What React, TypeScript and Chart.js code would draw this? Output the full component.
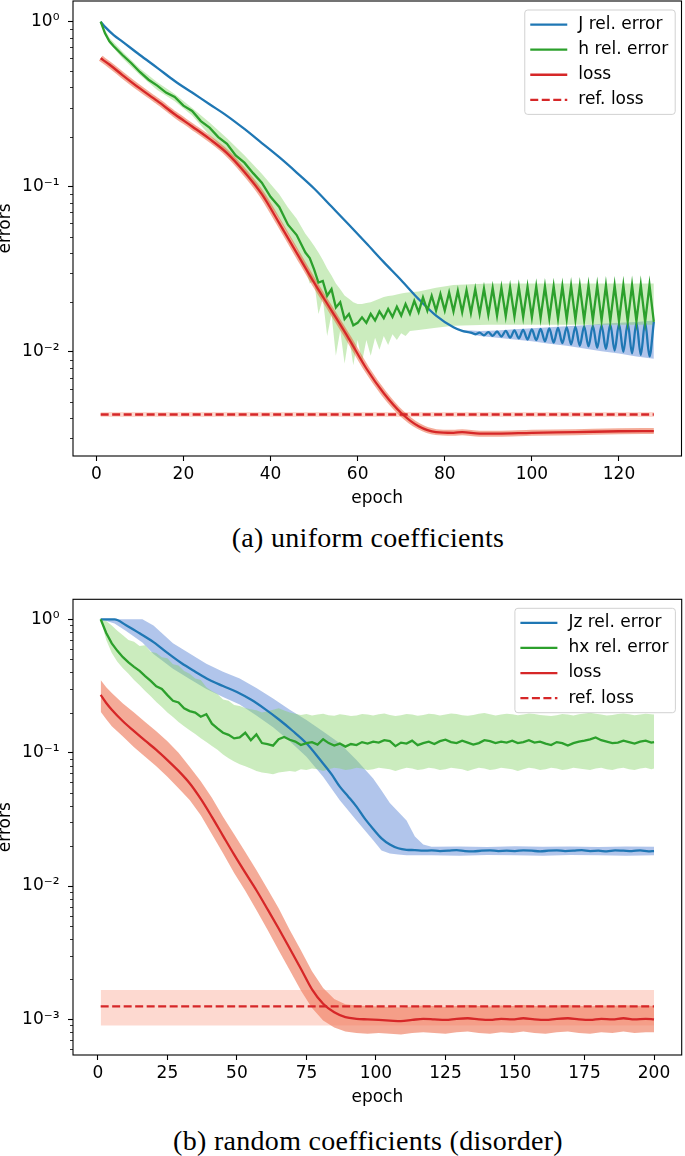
import React, { useEffect, useRef } from 'react';
import { Chart, registerables } from 'chart.js';

Chart.register(...registerables);
Chart.defaults.font.family = "'DejaVu Sans', sans-serif";
Chart.defaults.font.size = 17;
Chart.defaults.color = '#000';

// ================= (a) uniform coefficients =================
const aXTicks = [0, 20, 40, 60, 80, 100, 120];
const aYTicks = [0.01, 0.1, 1];
const aLegend = ['J rel. error', 'h rel. error', 'loss', 'ref. loss'];

const aJEpochs = [1, 2, 4, 6, 10, 14, 18, 22, 26, 30, 34, 38, 42, 46, 50, 54, 58, 62, 66, 70, 74, 78, 82, 84,
  86, 87, 88, 89, 90, 91, 92, 93, 94, 95, 96, 97, 98, 99, 100, 101, 102, 103, 104, 105, 106, 107, 108, 109,
  110, 111, 112, 113, 114, 115, 116, 117, 118, 119, 120, 121, 122, 123, 124, 125, 126, 127, 128];
const aJErr = [1.0, 0.93, 0.83, 0.757, 0.628, 0.525, 0.437, 0.372, 0.316, 0.269, 0.224, 0.184, 0.151, 0.122,
  0.0977, 0.0759, 0.0589, 0.0455, 0.035, 0.0272, 0.0209, 0.0166, 0.0141, 0.0134,
  0.0131, 0.0128, 0.0131, 0.0126, 0.0132, 0.0125, 0.0133, 0.0124, 0.0134, 0.0122, 0.0135, 0.0121, 0.0136, 0.0119,
  0.0137, 0.0118, 0.0138, 0.0116, 0.0139, 0.0114, 0.0140, 0.0113, 0.0141, 0.0111, 0.0142, 0.0109, 0.0143, 0.0108,
  0.0144, 0.0106, 0.0145, 0.0104, 0.0147, 0.0102, 0.0148, 0.0100, 0.0149, 0.0098, 0.0150, 0.0096, 0.0151, 0.0094, 0.0152];
const aJBandEpochs = [84, 88, 92, 96, 100, 104, 108, 112, 116, 120, 124, 128];
const aJBandHi = [0.0136, 0.0134, 0.0135, 0.0137, 0.0139, 0.0141, 0.0143, 0.0145, 0.0148, 0.0150, 0.0152, 0.0155];
const aJBandLo = [0.0132, 0.0125, 0.0122, 0.0119, 0.0116, 0.0112, 0.0109, 0.0105, 0.0101, 0.0098, 0.0094, 0.0091];

const aHEpochs = [1, 2, 3, 4, 6, 8, 10, 12, 14, 16, 18, 20, 22, 24, 26, 28, 30, 32, 34, 36, 38, 40, 42, 44, 46, 48, 49,
  50, 51, 52, 53, 54, 55, 56, 57, 58, 59, 60, 61, 62, 63, 64, 65, 66, 67, 68, 69, 70, 71, 72, 73, 74, 75, 76, 77, 78, 79,
  80, 81, 82, 83, 84, 85, 86, 87, 88, 89, 90, 91, 92, 93, 94, 95, 96, 97, 98, 99, 100, 101, 102, 103, 104, 105, 106,
  107, 108, 109, 110, 111, 112, 113, 114, 115, 116, 117, 118, 119, 120, 121, 122, 123, 124, 125, 126, 127, 128];
const aHErr = [1.0, 0.85, 0.76, 0.71, 0.628, 0.562, 0.496, 0.445, 0.41, 0.372, 0.35, 0.31, 0.288, 0.25, 0.228, 0.2,
  0.182, 0.155, 0.14, 0.121, 0.106, 0.087, 0.0755, 0.059, 0.051, 0.040, 0.037,
  0.0316, 0.0263, 0.0269, 0.0219, 0.024, 0.0186, 0.02, 0.0158, 0.017, 0.0145,
  0.015, 0.0162, 0.015, 0.017, 0.0155, 0.0176, 0.016, 0.0182, 0.0163, 0.0188,
  0.0166, 0.0195, 0.017, 0.0204, 0.0174, 0.0214, 0.0178, 0.0219, 0.0178, 0.0224,
  0.0178, 0.0229, 0.0176, 0.0234, 0.0174, 0.0236, 0.0172, 0.024, 0.017, 0.0242,
  0.0168, 0.0244, 0.0166, 0.0245, 0.0165, 0.0246, 0.0164, 0.0247, 0.0163, 0.0248,
  0.0162, 0.0249, 0.0161, 0.0249, 0.016, 0.025, 0.0159, 0.025, 0.0158, 0.0251,
  0.0157, 0.0251, 0.0156, 0.0252, 0.0156, 0.0252, 0.0155, 0.0253, 0.0154, 0.0253,
  0.0154, 0.0253, 0.0153, 0.0254, 0.0153, 0.0254, 0.0152, 0.0254, 0.0152];
const aHBandEpochs = [1, 3, 6, 10, 14, 18, 22, 26, 30, 34, 38, 42, 44, 46, 48, 49, 50, 51, 52, 53, 54, 55, 56, 57, 58,
  59, 60, 61, 62, 63, 64, 65, 66, 67, 68, 69, 70, 71, 72, 74, 78, 82, 90, 100, 110, 120, 128];
const aHBandHi = [1.0, 0.80, 0.66, 0.52, 0.43, 0.365, 0.30, 0.245, 0.197, 0.155, 0.12, 0.09, 0.075, 0.064, 0.052,
  0.048, 0.044, 0.040, 0.036, 0.032, 0.029, 0.026, 0.024, 0.022, 0.021, 0.020, 0.0195, 0.0195, 0.0198, 0.02, 0.0205,
  0.021, 0.0215, 0.0218, 0.022, 0.0223, 0.0226, 0.0228, 0.023, 0.0232, 0.0245, 0.0254, 0.026, 0.026, 0.026, 0.026, 0.026];
const aHBandLo = [1.0, 0.74, 0.60, 0.475, 0.385, 0.33, 0.27, 0.205, 0.163, 0.122, 0.092, 0.064, 0.052, 0.042, 0.032,
  0.026, 0.027, 0.017, 0.021, 0.0125, 0.017, 0.0095, 0.0135, 0.0085, 0.0125, 0.0083, 0.0118, 0.0087, 0.0118, 0.0095,
  0.0122, 0.0103, 0.0125, 0.011, 0.0128, 0.0118, 0.013, 0.0125, 0.0134, 0.0136, 0.014, 0.0144, 0.0146, 0.0146, 0.0146,
  0.0146, 0.0146];

const aLossEpochs = [1, 3, 6, 10, 14, 18, 22, 26, 30, 34, 38, 42, 46, 50, 54, 58, 62, 66, 70, 74, 78, 82, 84, 88, 92,
  100, 110, 120, 128];
const aLoss = [0.6, 0.55, 0.475, 0.394, 0.331, 0.275, 0.232, 0.195, 0.16, 0.123, 0.0902, 0.0603, 0.0398, 0.0263,
  0.0178, 0.012, 0.00794, 0.00562, 0.00427, 0.00355, 0.00327, 0.00324, 0.00327, 0.0032, 0.0032, 0.00324, 0.00327,
  0.00331, 0.00332];
const aRefEpochs = [1, 128];
const aRefLoss = [0.00418, 0.00418];

// ================= (b) random coefficients (disorder) =================
const bXTicks = [0, 25, 50, 75, 100, 125, 150, 175, 200];
const bYTicks = [0.001, 0.01, 0.1, 1];
const bLegend = ['Jz rel. error', 'hx rel. error', 'loss', 'ref. loss'];

const bJEpochs = [1, 3, 6, 10, 15, 20, 25, 30, 35, 40, 45, 50, 55, 60, 65, 70, 75, 80, 84, 87, 90, 93, 96, 99, 102,
  105, 108, 111, 114, 117, 120, 123, 126, 129, 132, 135, 138, 141, 144, 147, 150, 153, 156, 159, 162, 165, 168, 171,
  174, 177, 180, 183, 186, 189, 192, 195, 198, 200];
const bJErr = [1.0, 1.0, 1.0, 0.907, 0.785, 0.675, 0.56, 0.47, 0.405, 0.352, 0.316, 0.285, 0.25, 0.213, 0.178, 0.146,
  0.1175, 0.088, 0.069, 0.0556, 0.047, 0.0394, 0.032, 0.0268, 0.0228, 0.0205, 0.0192, 0.0187, 0.0186, 0.0184,
  0.0185, 0.0183, 0.0184, 0.0186, 0.0183, 0.0182, 0.0184, 0.0185, 0.0183, 0.0184, 0.0183, 0.0185, 0.0184, 0.0182,
  0.0184, 0.0185, 0.0183, 0.0184, 0.0186, 0.0183, 0.0184, 0.0182, 0.0185, 0.0184, 0.0183, 0.0185, 0.0182, 0.0183];
const bJBandEpochs = [1, 6, 10, 16, 20, 27, 33, 39, 45, 51, 57, 63, 69, 75, 81, 87, 93, 99, 102, 105, 108, 111, 114,
  117, 120, 130, 140, 150, 160, 170, 180, 190, 200];
const bJBandHi = [1, 1, 1, 1, 0.9, 0.66, 0.555, 0.465, 0.405, 0.36, 0.305, 0.255, 0.21, 0.176, 0.144, 0.1175, 0.088,
  0.064, 0.052, 0.042, 0.036, 0.031, 0.0235, 0.0205, 0.0197, 0.0198, 0.0196, 0.0199, 0.0197, 0.0198, 0.0196, 0.0198,
  0.0197];
const bJBandLo = [1, 0.93, 0.82, 0.67, 0.55, 0.425, 0.357, 0.3, 0.262, 0.23, 0.19, 0.155, 0.122, 0.093, 0.066, 0.044,
  0.031, 0.022, 0.0185, 0.0175, 0.0172, 0.017, 0.017, 0.017, 0.017, 0.0169, 0.0171, 0.017, 0.0169, 0.0171, 0.017,
  0.0169, 0.017];

const bHEpochs = [1, 3, 5, 7, 9, 11, 13, 15, 17, 19, 21, 23, 25, 27, 29, 31, 33, 35, 37, 39, 41, 43, 45, 47, 49, 51,
  53, 55, 57, 59, 61, 63, 65, 67, 69, 71, 73, 75, 77, 79, 81, 83, 85, 87, 89, 91, 93, 95, 97, 99, 101, 103, 105, 107,
  109, 111, 113, 115, 117, 119, 121, 123, 125, 127, 129, 131, 133, 135, 137, 139, 141, 143, 145, 147, 149, 151, 153,
  155, 157, 159, 161, 163, 165, 167, 169, 171, 173, 175, 177, 179, 181, 183, 185, 187, 189, 191, 193, 195, 197, 199, 200];
const bHErr = [1.0, 0.79, 0.66, 0.58, 0.52, 0.475, 0.44, 0.41, 0.375, 0.345,
  0.315, 0.3, 0.27, 0.245, 0.238, 0.215, 0.205, 0.2, 0.186, 0.194,
  0.165, 0.152, 0.141, 0.136, 0.128, 0.13, 0.141, 0.124, 0.137, 0.118,
  0.116, 0.113, 0.126, 0.131, 0.125, 0.121, 0.114, 0.118, 0.12, 0.115,
  0.126, 0.118, 0.113, 0.117, 0.111, 0.116, 0.114, 0.12, 0.117, 0.121,
  0.119, 0.124, 0.122, 0.112, 0.119, 0.117, 0.123, 0.114, 0.118, 0.121,
  0.116, 0.122, 0.125, 0.12, 0.118, 0.123, 0.119, 0.115, 0.118, 0.124,
  0.122, 0.118, 0.121, 0.119, 0.123, 0.118, 0.12, 0.124, 0.119, 0.121,
  0.117, 0.114, 0.12, 0.118, 0.113, 0.118, 0.121, 0.123, 0.126, 0.13,
  0.124, 0.121, 0.118, 0.119, 0.123, 0.12, 0.117, 0.121, 0.123, 0.119, 0.12];
const bHBandHi = [1.0, 0.97, 0.9, 0.82, 0.76, 0.7, 0.68, 0.63, 0.64, 0.57,
  0.56, 0.52, 0.51, 0.46, 0.45, 0.41, 0.39, 0.36, 0.35, 0.31,
  0.29, 0.275, 0.25, 0.245, 0.228, 0.224, 0.216, 0.212, 0.208, 0.2,
  0.204, 0.21, 0.215, 0.207, 0.2, 0.196, 0.192, 0.195, 0.19, 0.193,
  0.196, 0.191, 0.189, 0.194, 0.192, 0.188, 0.19, 0.195, 0.193, 0.19,
  0.194, 0.197, 0.192, 0.188, 0.191, 0.195, 0.193, 0.189, 0.192, 0.196,
  0.194, 0.19, 0.193, 0.197, 0.195, 0.191, 0.189, 0.192, 0.196, 0.198,
  0.194, 0.19, 0.193, 0.196, 0.194, 0.191, 0.193, 0.197, 0.195, 0.192,
  0.19, 0.188, 0.191, 0.195, 0.193, 0.19, 0.194, 0.197, 0.199, 0.196,
  0.193, 0.19, 0.192, 0.195, 0.197, 0.194, 0.191, 0.193, 0.196, 0.194, 0.193];
const bHBandLo = [1.0, 0.7, 0.56, 0.48, 0.43, 0.39, 0.35, 0.32, 0.29, 0.265,
  0.24, 0.22, 0.2, 0.185, 0.17, 0.158, 0.147, 0.138, 0.128, 0.12,
  0.112, 0.105, 0.097, 0.091, 0.086, 0.082, 0.079, 0.076, 0.073, 0.071,
  0.07, 0.069, 0.071, 0.072, 0.073, 0.072, 0.075, 0.074, 0.076, 0.075,
  0.073, 0.075, 0.077, 0.076, 0.074, 0.075, 0.077, 0.076, 0.074, 0.075,
  0.077, 0.076, 0.075, 0.073, 0.075, 0.077, 0.076, 0.074, 0.075, 0.077,
  0.076, 0.074, 0.075, 0.077, 0.076, 0.075, 0.073, 0.075, 0.077, 0.076,
  0.074, 0.075, 0.077, 0.076, 0.075, 0.073, 0.075, 0.077, 0.076, 0.074,
  0.075, 0.077, 0.076, 0.074, 0.075, 0.077, 0.076, 0.075, 0.074, 0.076,
  0.077, 0.075, 0.074, 0.076, 0.077, 0.075, 0.074, 0.076, 0.077, 0.075, 0.076];

const bLossEpochs = [1, 3, 5, 9, 13, 17, 21, 25, 29, 33, 37, 41, 45, 49, 53, 57, 61, 65, 69, 73, 77, 81, 85, 89, 93, 97,
  101, 105, 109, 113, 117, 121, 125, 129, 133, 137, 141, 145, 149, 153, 157, 161, 165, 169, 173, 177, 181, 185, 189,
  193, 197, 200];
const bLoss = [0.271, 0.236, 0.21, 0.172, 0.145, 0.123, 0.105, 0.088, 0.073, 0.059, 0.045, 0.033, 0.0238, 0.0172,
  0.0126, 0.0093, 0.0067, 0.0048, 0.0034, 0.0024, 0.00168, 0.00131, 0.00113, 0.00104, 0.00101, 0.001,
  0.00099, 0.00098, 0.00097, 0.00099, 0.00101, 0.001, 0.00099, 0.00101, 0.00102, 0.001, 0.00099, 0.00101, 0.001,
  0.00102, 0.001, 0.00099, 0.00101, 0.00102, 0.001, 0.00099, 0.00101, 0.001, 0.00102, 0.001, 0.00101, 0.001];
const bLossHi = [0.351, 0.31, 0.28, 0.234, 0.2, 0.17, 0.145, 0.122, 0.1, 0.0785, 0.061, 0.046, 0.0331, 0.0245,
  0.018, 0.0132, 0.0095, 0.0068, 0.00468, 0.0033, 0.0023, 0.00172, 0.00142, 0.0013, 0.00127, 0.00126,
  0.00125, 0.00124, 0.00123, 0.00125, 0.00127, 0.00126, 0.00124, 0.00126, 0.00128, 0.00126, 0.00125, 0.00127,
  0.00126, 0.00128, 0.00126, 0.00125, 0.00127, 0.00128, 0.00126, 0.00125, 0.00127, 0.00126, 0.00128, 0.00126,
  0.00127, 0.00126];
const bLossLo = [0.203, 0.178, 0.158, 0.132, 0.11, 0.093, 0.079, 0.066, 0.054, 0.0442, 0.034, 0.0245, 0.0176, 0.0125,
  0.0092, 0.0066, 0.0047, 0.0033, 0.00234, 0.00165, 0.00122, 0.00098, 0.00087, 0.00081, 0.00079, 0.00078,
  0.00079, 0.00078, 0.00077, 0.00079, 0.0008, 0.00079, 0.00078, 0.0008, 0.00081, 0.00079, 0.00078, 0.0008, 0.00079,
  0.00081, 0.00079, 0.00078, 0.0008, 0.00081, 0.00079, 0.00078, 0.0008, 0.00079, 0.00081, 0.00079, 0.0008, 0.0008];
const bRefEpochs = [1, 200];
const bRefLoss = [0.00125, 0.00125];
const bRefHi = [0.00166, 0.00166];
const bRefLo = [0.0009, 0.0009];

// ================= styling =================
const BLUE = '#1f77b4';
const GREEN = '#2ca02c';
const RED = '#d62728';
const BLUE_BAND = 'rgba(100,140,215,0.5)';
const GREEN_BAND = 'rgba(130,210,100,0.42)';
const RED_BAND = 'rgba(232,80,40,0.48)';
const REF_BAND = 'rgba(250,130,100,0.3)';
const LW = 2.3;
const DASH = [8, 3.5];
const FONT = 17;

const SUP: Record<string, string> = { '-': '\u207B', '0': '\u2070', '1': '\u00B9', '2': '\u00B2', '3': '\u00B3', '4': '\u2074' };
const powLabel = (v: number) => {
  const e = Math.round(Math.log10(v));
  return '10' + String(e).split('').map((c) => SUP[c]).join('');
};

const xy = (ep: number[], v: number[]) => ep.map((e, i) => ({ x: e, y: v[i] }));

const lineDs = (label: string, ep: number[], v: number[], color: string, order: number, extra: any = {}) => ({
  label, data: xy(ep, v), borderColor: color, borderWidth: LW, pointRadius: 0, fill: false,
  cubicInterpolationMode: 'monotone', order, ...extra,
});
const bandDs = (ep: number[], hi: number[], lo: number[], color: string, order: number) => [
  { label: '', data: xy(ep, hi), borderColor: 'rgba(0,0,0,0)', borderWidth: 0, backgroundColor: color, pointRadius: 0, fill: '+1', order, tension: 0 },
  { label: '', data: xy(ep, lo), borderColor: 'rgba(0,0,0,0)', borderWidth: 0, pointRadius: 0, fill: false, order, tension: 0 },
];

const framePlugin = {
  id: 'frameAndMinor',
  afterDraw(chart: any) {
    const { ctx, chartArea: a, scales } = chart;
    const y = scales.y;
    ctx.save();
    ctx.strokeStyle = '#000';
    ctx.lineWidth = 0.8;
    ctx.beginPath();
    for (let e = -4; e <= 1; e++) {
      for (let k = 2; k <= 9; k++) {
        const v = k * Math.pow(10, e);
        if (v < y.min || v > y.max) continue;
        const py = Math.round(y.getPixelForValue(v)) + 0.5;
        ctx.moveTo(a.left - 3, py);
        ctx.lineTo(a.left, py);
      }
    }
    ctx.stroke();
    ctx.lineWidth = 1.1;
    ctx.strokeRect(a.left, a.top, a.right - a.left, a.bottom - a.top);
    ctx.restore();
  },
};

const makeLegend = (labels: string[]) => ({
  id: 'boxLegend',
  afterDraw(chart: any) {
    const { ctx, chartArea: a } = chart;
    const items = [
      { label: labels[0], color: BLUE, dash: [] as number[] },
      { label: labels[1], color: GREEN, dash: [] as number[] },
      { label: labels[2], color: RED, dash: [] as number[] },
      { label: labels[3], color: RED, dash: DASH },
    ];
    ctx.save();
    ctx.font = `${FONT}px 'DejaVu Sans'`;
    const tw = Math.max(...items.map((it) => ctx.measureText(it.label).width));
    const padL = 5.5, handle = 37, gap = 11, padR = 7;
    const rowH = 25.1;
    const w = padL + handle + gap + tw + padR;
    const h = rowH * items.length + 4;
    const x = a.right - 6.3 - w;
    const y = a.top + 9;
    ctx.beginPath();
    ctx.roundRect(x, y, w, h, 3);
    ctx.fillStyle = 'rgba(255,255,255,0.8)';
    ctx.fill();
    ctx.strokeStyle = 'rgba(204,204,204,0.9)';
    ctx.lineWidth = 1;
    ctx.stroke();
    items.forEach((it, i) => {
      const cy = y + 2 + rowH * (i + 0.5);
      ctx.beginPath();
      ctx.setLineDash(it.dash);
      ctx.strokeStyle = it.color;
      ctx.lineWidth = LW;
      ctx.moveTo(x + padL, cy);
      ctx.lineTo(x + padL + handle, cy);
      ctx.stroke();
      ctx.setLineDash([]);
      ctx.fillStyle = '#000';
      ctx.textBaseline = 'middle';
      ctx.textAlign = 'left';
      ctx.fillText(it.label, x + padL + handle + gap, cy);
    });
    ctx.restore();
  },
});

type PanelCfg = {
  top: number; height: number; padTop: number; padRight: number;
  xMin: number; xMax: number; yMin: number; yMax: number;
  xTicks: number[]; yTicks: number[]; legend: string[]; datasets: any[];
};

const buildConfig = (c: PanelCfg): any => ({
  type: 'line',
  data: { datasets: c.datasets },
  plugins: [framePlugin, makeLegend(c.legend)],
  options: {
    responsive: false,
    animation: false,
    devicePixelRatio: 1,
    events: [],
    layout: { padding: { top: c.padTop, right: c.padRight, left: 0, bottom: 0 } },
    plugins: { legend: { display: false }, tooltip: { enabled: false } },
    scales: {
      x: {
        type: 'linear', bounds: 'data', min: c.xMin, max: c.xMax,
        afterBuildTicks: (s: any) => { s.ticks = c.xTicks.map((v) => ({ value: v })); },
        afterFit: (s: any) => { s.height = 60; s.paddingLeft = 0; s.paddingRight = 0; },
        ticks: { padding: 3, color: '#000', font: { size: FONT }, maxRotation: 0, autoSkip: false, callback: (v: any) => String(v) },
        grid: { drawOnChartArea: false, drawTicks: true, tickLength: 5, tickColor: '#000', tickWidth: 1.1 },
        border: { display: false },
        title: { display: true, text: 'epoch', color: '#000', font: { size: FONT }, padding: { top: 0, bottom: 6.8 } },
      },
      y: {
        type: 'logarithmic', bounds: 'data', min: c.yMin, max: c.yMax,
        afterBuildTicks: (s: any) => { s.ticks = c.yTicks.map((v) => ({ value: v })); },
        afterFit: (s: any) => { s.width = 73; s.paddingTop = 0; s.paddingBottom = 0; },
        ticks: { padding: 8.5, color: '#000', font: { size: FONT }, autoSkip: false, callback: (v: any) => powLabel(Number(v)) },
        grid: { drawOnChartArea: false, drawTicks: true, tickLength: 5, tickColor: '#000', tickWidth: 1.1 },
        border: { display: false },
        title: { display: true, text: 'errors', color: '#000', font: { size: FONT }, padding: { top: -4.8, bottom: 0 } },
      },
    },
  },
});

const panelA: PanelCfg = {
  top: 0, height: 516, padTop: 1, padRight: 3.5,
  xMin: -5.35, xMax: 134.35, yMin: Math.pow(10, -2.63), yMax: Math.pow(10, 0.125),
  xTicks: aXTicks, yTicks: aYTicks, legend: aLegend,
  datasets: [
    ...bandDs(aJBandEpochs, aJBandHi, aJBandLo, BLUE_BAND, 10),
    ...bandDs(aHBandEpochs, aHBandHi, aHBandLo, GREEN_BAND, 9),
    lineDs('loss band', aLossEpochs, aLoss, RED_BAND, 8, { borderWidth: 6 }),
    lineDs('ref band', aRefEpochs, aRefLoss, REF_BAND, 8, { borderWidth: 5 }),
    lineDs(aLegend[0], aJEpochs, aJErr, BLUE, 3),
    lineDs(aLegend[1], aHEpochs, aHErr, GREEN, 2, { cubicInterpolationMode: 'default', tension: 0 }),
    lineDs(aLegend[2], aLossEpochs, aLoss, RED, 1),
    lineDs(aLegend[3], aRefEpochs, aRefLoss, RED, 0, { borderDash: DASH }),
  ],
};

const panelB: PanelCfg = {
  top: 580, height: 535, padTop: 19.3, padRight: 3.3,
  xMin: -8.95, xMax: 209.95, yMin: Math.pow(10, -3.267), yMax: Math.pow(10, 0.15),
  xTicks: bXTicks, yTicks: bYTicks, legend: bLegend,
  datasets: [
    ...bandDs(bJBandEpochs, bJBandHi, bJBandLo, BLUE_BAND, 10),
    ...bandDs(bHEpochs, bHBandHi, bHBandLo, GREEN_BAND, 9),
    ...bandDs(bLossEpochs, bLossHi, bLossLo, RED_BAND, 8),
    ...bandDs(bRefEpochs, bRefHi, bRefLo, REF_BAND, 7),
    lineDs(bLegend[0], bJEpochs, bJErr, BLUE, 3),
    lineDs(bLegend[1], bHEpochs, bHErr, GREEN, 2, { cubicInterpolationMode: 'default', tension: 0 }),
    lineDs(bLegend[2], bLossEpochs, bLoss, RED, 1),
    lineDs(bLegend[3], bRefEpochs, bRefLoss, RED, 0, { borderDash: DASH }),
  ],
};

function Panel({ cfg }: { cfg: PanelCfg }) {
  const ref = useRef<HTMLCanvasElement>(null);
  useEffect(() => {
    const chart = new Chart(ref.current as HTMLCanvasElement, buildConfig(cfg));
    return () => chart.destroy();
  }, [cfg]);
  return (
    <canvas
      ref={ref}
      width={685}
      height={cfg.height}
      style={{ position: 'absolute', left: 0, top: cfg.top, width: 685, height: cfg.height }}
    />
  );
}

const captionStyle = (cx: number, cy: number): React.CSSProperties => ({
  position: 'absolute', left: cx, top: cy, transform: 'translate(-50%, -50%)', whiteSpace: 'nowrap',
  fontFamily: "'Liberation Serif', serif", fontSize: 28, letterSpacing: 0.3, color: '#000', lineHeight: 1,
});

export default function App() {
  return (
    <div style={{ position: 'absolute', left: 0, top: 0, width: 685, height: 1156, background: '#fff', overflow: 'hidden' }}>
      <Panel cfg={panelA} />
      <div style={captionStyle(368, 538)}>(a) uniform coefficients</div>
      <Panel cfg={panelB} />
      <div style={captionStyle(368, 1141)}>(b) random coefficients (disorder)</div>
    </div>
  );
}
